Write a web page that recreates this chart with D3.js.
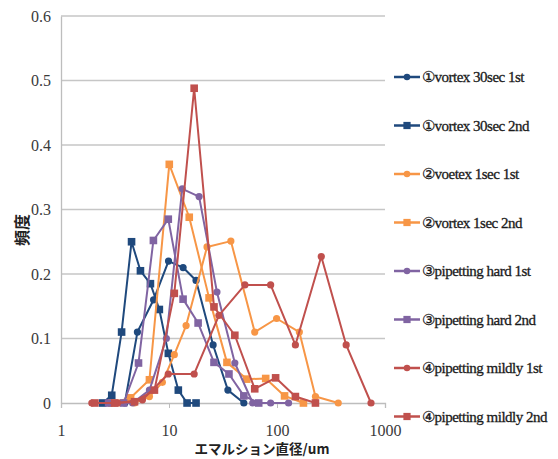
<!DOCTYPE html>
<html>
<head>
<meta charset="utf-8">
<script src="https://cdn.jsdelivr.net/npm/d3@7"></script>
<style>
  body { margin: 0; background: #fff; }
</style>
</head>
<body>
<svg id="chart" width="558" height="459"></svg>
<script>
// series names (legend order)
var names = ["①vortex 30sec 1st", "①vortex 30sec 2nd", "②voetex 1sec 1st", "②vortex 1sec 2nd",
             "③pipetting hard 1st", "③pipetting hard 2nd", "④pipetting mildly 1st", "④pipetting mildly 2nd"];
var colors = ["#1F497D", "#1F497D", "#F79646", "#F79646", "#8064A2", "#8064A2", "#C0504D", "#C0504D"];
var shapes = ["circle", "square", "circle", "square", "circle", "square", "circle", "square"];

// diameters (um) and frequencies
var vortex30_1st_d = [2.8, 3.9, 5.1, 7.2, 9.9, 13.5, 17.8, 25.6, 35.1, 49.3];
var vortex30_1st_v = [0, 0, 0.11, 0.16, 0.22, 0.21, 0.19, 0.09, 0.02, 0];

var vortex30_2nd_d = [2.43, 2.95, 3.64, 4.5, 5.44, 6.73, 8.14, 9.86, 12.2, 14.7, 17.8];
var vortex30_2nd_v = [0, 0.012, 0.11, 0.25, 0.205, 0.185, 0.145, 0.077, 0.02, 0, 0];

var vortex1_1st_d = [3.49, 4.8, 6.59, 8.68, 11.2, 14.4, 22.5, 37.4, 62.2, 99.2, 161, 227, 369];
var vortex1_1st_v = [0, 0, 0.01, 0.032, 0.075, 0.12, 0.242, 0.251, 0.11, 0.131, 0.11, 0.01, 0];

var vortex1_2nd_d = [2.95, 4.41, 6.59, 10.06, 15.4, 23.5, 34.4, 52.5, 78.6, 117.5, 175.7];
var vortex1_2nd_v = [0, 0.008, 0.036, 0.37, 0.288, 0.163, 0.063, 0.037, 0.038, 0.011, 0];

var hard_1st_d = [3.21, 4.6, 6.59, 9.45, 13.26, 19.0, 27.8, 40.7, 59.6, 87.3, 127.9];
var hard_1st_v = [0, 0, 0.02, 0.1, 0.332, 0.32, 0.172, 0.062, 0, 0, 0];

var hard_2nd_d = [2.76, 3.8, 5.22, 7.17, 9.85, 13.5, 18.6, 26.1, 35.9, 49.3, 67.7];
var hard_2nd_v = [0, 0, 0.062, 0.252, 0.285, 0.161, 0.124, 0.063, 0.045, 0.011, 0];

var mild_1st_d = [1.93, 3.34, 5.68, 9.85, 17.1, 29.0, 50.4, 87.3, 148, 257, 437, 742];
var mild_1st_v = [0, 0, 0.005, 0.045, 0.045, 0.136, 0.183, 0.183, 0.09, 0.227, 0.09, 0];

var mild_2nd_d = [2.06, 3.14, 4.8, 7.33, 11.2, 17.1, 26.1, 40.7, 62.2, 97.1, 148, 227];
var mild_2nd_v = [0, 0, 0.002, 0.02, 0.17, 0.488, 0.149, 0.105, 0.022, 0.039, 0.01, 0];

var xTicks = [1, 10, 100, 1000];
var yTicks = [0, 0.1, 0.2, 0.3, 0.4, 0.5, 0.6];

var allD = [vortex30_1st_d, vortex30_2nd_d, vortex1_1st_d, vortex1_2nd_d, hard_1st_d, hard_2nd_d, mild_1st_d, mild_2nd_d];
var allV = [vortex30_1st_v, vortex30_2nd_v, vortex1_1st_v, vortex1_2nd_v, hard_1st_v, hard_2nd_v, mild_1st_v, mild_2nd_v];

var serif = "'Liberation Serif', 'DejaVu Serif', serif";

var series = names.map(function(n, i){
    return {name: n, color: colors[i], shape: shapes[i],
            pts: allD[i].map(function(d, j){ return {d: d, v: allV[i][j]}; })};
});

var svg = d3.select("#chart");
var x = d3.scaleLog().domain([1, 1000]).range([61, 385]);
var y = d3.scaleLinear().domain([0, 0.6]).range([403, 16]);

// gridlines
svg.append("g").selectAll("line")
    .data(yTicks.slice(1))
    .enter().append("line")
    .attr("x1", 61).attr("x2", 385)
    .attr("y1", function(d){ return y(d); }).attr("y2", function(d){ return y(d); })
    .attr("stroke", "#c6c6c6").attr("stroke-width", 1.3);

// axes
var xAxis = svg.append("g").attr("transform", "translate(0,403)")
    .call(d3.axisBottom(x).tickValues(xTicks).tickFormat(d3.format("d")).tickSize(5).tickPadding(17));
var yAxis = svg.append("g").attr("transform", "translate(61,0)")
    .call(d3.axisLeft(y).tickValues(yTicks).tickFormat(function(d){ return d === 0 ? "0" : d.toFixed(1); }).tickSize(0).tickPadding(10));
[xAxis, yAxis].forEach(function(a){
    a.select(".domain").attr("stroke", "#bdbdbd").attr("stroke-width", 1.3);
    a.selectAll(".tick line").attr("stroke", "#bdbdbd");
    a.selectAll("text").style("font-size", "16px").style("fill", "#3a3a3a")
        .style("font-family", serif);
});

// lines and markers
var line = d3.line().x(function(p){ return x(p.d); }).y(function(p){ return y(p.v); });

function drawMarker(g, shape, color, cx, cy, s) {
    if (shape === "circle") {
        g.append("circle").attr("cx", cx).attr("cy", cy).attr("r", 3.6 * s).attr("fill", color);
    } else {
        g.append("rect").attr("x", cx - 3.8 * s).attr("y", cy - 3.8 * s)
            .attr("width", 7.6 * s).attr("height", 7.6 * s).attr("fill", color);
    }
}

series.forEach(function(s){
    var g = svg.append("g");
    g.append("path").datum(s.pts).attr("d", line)
        .attr("fill", "none").attr("stroke", s.color).attr("stroke-width", 2).attr("stroke-linejoin", "round");
    s.pts.forEach(function(p){ drawMarker(g, s.shape, s.color, x(p.d), y(p.v), 1); });
});

// legend
var legend = svg.append("g");
series.forEach(function(s, i){
    var ly = 77 + i * 48.5;
    legend.append("line").attr("x1", 394).attr("x2", 420).attr("y1", ly).attr("y2", ly)
        .attr("stroke", s.color).attr("stroke-width", 2.5);
    drawMarker(legend, s.shape, s.color, 407, ly, s.shape === "circle" ? 0.9 : 0.95);
    legend.append("text").attr("x", 422).attr("y", ly + 5)
        .style("font-family", serif).style("font-size", "15px").style("fill", "#1a1a1a")
        .style("letter-spacing", "-0.5px")
        .attr("stroke", "#1a1a1a").attr("stroke-width", 0.3)
        .text(s.name);
});

// axis titles
svg.append("text").attr("transform", "translate(28,230) rotate(-90)")
    .attr("text-anchor", "middle").style("font-size", "16px").style("font-weight", "bold").style("fill", "#222")
    .style("font-family", "'Noto Sans CJK JP', sans-serif")
    .text("頻度");
svg.append("text").attr("x", 262).attr("y", 454)
    .attr("text-anchor", "middle").style("font-size", "13.5px").style("font-weight", "bold").style("fill", "#222")
    .style("font-family", "'Noto Sans CJK JP', sans-serif")
    .text("エマルション直径/um");
</script>
</body>
</html>
